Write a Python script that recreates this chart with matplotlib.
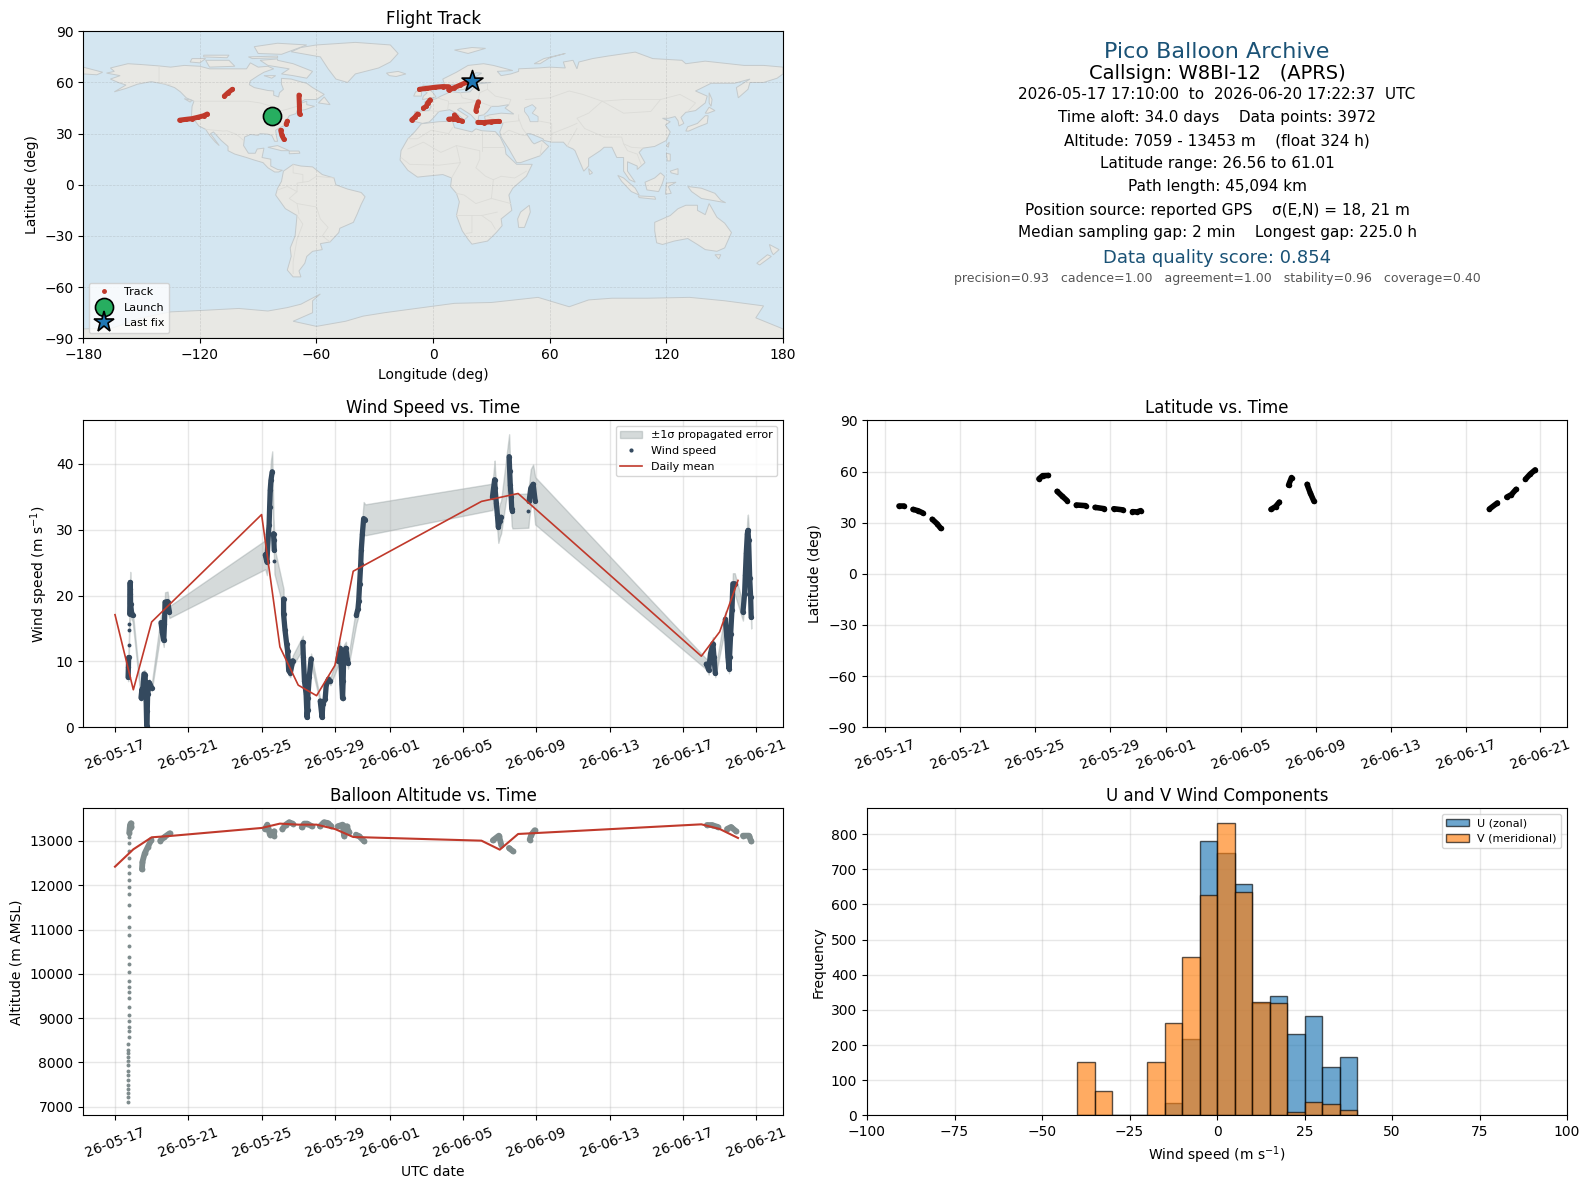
from datetime import datetime
import numpy as np
import matplotlib
matplotlib.use('Agg')
import matplotlib.pyplot as plt
import matplotlib.dates as mdates
from matplotlib.lines import Line2D
from matplotlib.patches import Patch, Polygon

# ---- land outlines (lon, lat), traced by hand
north_america = [(-168,65.5),(-164,66.5),(-166,68.5),(-157,71),(-150,70.5),(-141,69.7),(-135,69),(-128,70),(-120,69.5),(-115,68),(-108,68),(-100,68),(-96,68),(-94,71.5),(-90,69),(-85,69.5),(-82,68),(-87,66),(-90,64),(-94,61),(-94.5,58.7),(-92,57),(-85,55.3),(-82,55),(-82,52.5),(-79.5,51.5),(-79,54),(-77,56),(-78,59),(-78,62.4),(-73,62),(-70,61),(-65,59.5),(-62,57),(-56,53),(-60,50),(-66,50),(-70,47),(-65,49),(-65,47),(-61,46),(-66,44),(-70,43.5),(-70.5,41.7),(-74,40.5),(-75.5,37.5),(-76,35),(-78,34),(-81,32),(-80.5,28),(-80,25.5),(-81.5,25.5),(-83,29),(-85,29.7),(-89,30),(-90,29),(-94,29.5),(-97,28),(-97.5,23),(-95,18.5),(-91.5,18.5),(-90.5,21),(-87,21.5),(-88,16),(-83.5,15),(-83.5,11),(-80,9),(-77.5,8.5),(-79.5,7.5),(-81.5,7.5),(-85,10),(-87.5,13),(-92,14.5),(-96,16),(-102,18),(-105.5,20),(-105.5,22.5),(-109,26),(-113,31),(-114.5,30),(-110,23),(-112,25),(-115,29),(-117,32.5),(-120.5,34.5),(-122.5,37.5),(-124.3,40.5),(-124,46),(-123,49),(-127,51),(-130,54.5),(-133,57),(-138,59),(-145,60.5),(-152,59),(-158,56.5),(-164,54.5),(-158,58.5),(-162,60),(-166,62),(-161,64)]
greenland = [(-73,78),(-68,80.5),(-60,82),(-40,83.5),(-22,82),(-18,77),(-22,72),(-28,68.5),(-40,65),(-44,60),(-50,62),(-54,68),(-58,75)]
baffin = [(-80,73),(-72,71),(-62,66.5),(-65,62.5),(-72,64),(-78,65),(-74,68),(-85,70),(-89,73),(-80,73.8)]
victoria = [(-117,73),(-105,73),(-102,69.5),(-115,69)]
ellesmere = [(-90,77),(-78,76.5),(-65,82),(-80,83),(-92,81)]
banks = [(-125,72),(-124,74),(-117,74),(-120,71.5)]
melville = [(-118,76),(-105,76),(-106,74.5),(-118,75)]
devon = [(-95,75),(-80,75.5),(-80,74.5),(-93,74)]
southampton = [(-87,64),(-81,64),(-83,62.5)]
newfoundland = [(-59,48),(-56,51.5),(-53,47)]
vancouver = [(-128,50.5),(-124,49.5),(-125,48.5)]
cuba = [(-85,22),(-80,23),(-74,20),(-78,20)]
hispaniola = [(-74,19.8),(-69,19.8),(-68.5,18.5),(-74,18.2)]
iceland = [(-24,65.5),(-18,66.5),(-14,65),(-19,63.5),(-22.5,64)]
chukotka = [(-180,69),(-175,67.5),(-170,66),(-173,64.5),(-180,65)]
south_america = [(-77,8),(-72,12),(-68,11),(-62,10.5),(-57,6),(-51,4),(-50,0),(-44,-2.5),(-37,-4.5),(-35,-7),(-37,-11.5),(-39,-17),(-41,-22),(-48,-25.5),(-48.5,-28),(-53,-33.5),(-58,-34.5),(-57,-38),(-62,-39),(-65,-42),(-66,-46),(-69,-50.5),(-68,-54),(-72,-54),(-75,-50),(-73,-42),(-73.5,-37),(-71,-30),(-70,-18),(-76,-14),(-81,-6),(-80,-2),(-78,2)]
africa = [(-6,35.8),(3,37),(10,37.3),(11,33.5),(15,32.4),(20,31),(22,32.8),(25,31.7),(32,31.2),(34.5,28),(37,22),(37.5,18),(43,12),(51,12),(48,5),(41,-2),(39,-6),(40.5,-15),(35,-20),(35.5,-24),(32.5,-28),(28,-33),(20,-34.8),(18,-32),(15,-27),(12,-18),(13.5,-10),(12,-5),(9,-1),(9.5,4),(5,6),(-4,5),(-8,4.5),(-13,8.5),(-17,14.5),(-16.5,20),(-13,27),(-9.5,31)]
madagascar = [(49.5,-12),(50,-16),(47,-25),(44,-25),(43.5,-20),(45,-16)]
eurasia = [(-9,37),(-9.5,43),(-2,43.5),(-1,46),(-4.5,48.5),(1.5,50.5),(4,52),(8,54),(8,57),(10.5,57.5),(10,54.5),(14,54),(19,54.5),(21,57),(24,59.3),(30,60),(23,60),(21.5,63),(25,65.5),(22,65.7),(17,61),(18.5,59.5),(16,56),(13,55.5),(11,59),(6,58),(5,62),(12,66),(18,70),(26,71),(31,70),(41,67),(33,66.5),(35,64),(40,65),(44,66.5),(44,68),(54,68.5),(60,69),(68,68.5),(67,72),(72,73),(74,68),(75,72),(82,74),(90,75.5),(104,77.8),(113,74),(128,73),(130,71),(140,72.5),(152,71),(160,70),(170,70),(180,69),(180,65),(177,62.5),(170,60),(163,60),(162,56),(157,51),(156,57),(163,62),(155,59.5),(143,59.5),(135,55),(141,52),(140,48),(135,43.5),(130,42.5),(127.5,39.5),(129,36),(126.5,34.5),(126,37.5),(124.5,40),(121,39),(118,39),(122,37),(119.5,35),(122,31),(120,26),(114,22.5),(108,21.5),(106,19),(109,13),(105,9),(105,11),(100,13.5),(100,8),(104,1.5),(101,3),(98,8),(98,16),(94.5,16),(92,22),(88,22),(86,20),(80,15.5),(80,11),(77.5,8),(73,20),(72,21),(69,22.5),(67,25),(61,25),(57,26),(56.5,27),(50,30),(48,30),(51,25),(52,24),(56,26),(59.5,22.5),(55,17),(45,13),(43,13),(39,21),(35,28),(34.3,31),(36,36),(30,36),(27,37),(26.5,40),(29,41),(35,42),(41.5,41.5),(37,45),(39,47),(33.5,46),(30,46),(28,43),(26,41),(23.5,40.5),(23,36.5),(19.5,41),(14,45),(12.5,44),(18,40),(16,38),(12,42),(8.5,44),(3,43),(0,39),(-2,36.8),(-5.5,36)]
britain = [(-5.5,50),(1.5,51.5),(0,54),(-2,56),(-2,57.5),(-5,58.5),(-6,56),(-3,54),(-5,52)]
ireland = [(-10,52),(-6,52),(-6,55),(-9,54.5)]
svalbard = [(11,79),(20,80.5),(27,80),(18,77)]
novaya_zemlya = [(52,71),(57,74),(68,77),(60,74.5),(55,71)]
sakhalin = [(142,54),(143.5,50),(143,46),(142,48)]
honshu = [(130,31.5),(131,34),(136,36),(140,40.5),(141.5,40.5),(141,36),(136.5,34),(131.5,31.5)]
hokkaido = [(140,42),(142,45.5),(145,43.5),(141.5,42)]
taiwan = [(120,23),(121.5,25),(121,22)]
luzon = [(120,18.5),(122,18),(122,14),(120.5,14)]
mindanao = [(122,8),(126,9.5),(126,6),(122.5,7)]
borneo = [(109,1.5),(114,4),(117,7),(119,5),(118,1),(116,-4),(110,-3)]
sumatra = [(95,5.5),(98,4),(104,-2),(106,-6),(102,-4),(97,2)]
java = [(105.5,-6.5),(114,-7),(114.5,-8.5),(106,-7.5)]
sulawesi = [(119.5,-5.5),(120,1),(125,1.5),(121,-1),(122.5,-5)]
new_guinea = [(131,-1),(138,-2),(145,-5),(148,-9),(150.5,-10.5),(143,-9),(138,-8),(133,-4)]
sri_lanka = [(80,9.5),(82,7),(80.5,6)]
australia = [(114,-22),(122,-18),(126,-14),(130,-12),(136,-12),(136,-15),(140,-17.5),(142,-11),(146,-19),(150,-22.5),(153.5,-28),(150,-37),(146,-39),(140,-38),(136,-35),(131,-31.5),(124,-33),(118,-35),(115,-34),(114,-27)]
tasmania = [(145,-41),(148,-41),(147,-43.5)]
nz_north = [(173,-35),(178,-38),(175,-41),(174,-39)]
nz_south = [(172,-41),(174,-42),(168,-47),(166.5,-46)]
antarctica = [(-180,-90),(-180,-84.5),(-165,-84),(-150,-78),(-135,-74.5),(-118,-73.6),(-100,-72.5),(-85,-74),(-75,-72),(-68,-70),(-58,-64),(-62,-68),(-62,-75),(-72,-80),(-60,-83),(-45,-80),(-36,-77),(-25,-75),(-12,-73),(11,-69.5),(30,-69),(54,-66),(70,-71.5),(80,-67.5),(92,-66.5),(110,-66.5),(132,-66),(150,-68),(170,-71),(166,-78),(180,-84.5),(180,-90)]
land = [north_america, greenland, baffin, victoria, ellesmere, banks, melville, devon, southampton, newfoundland, vancouver, cuba, hispaniola, iceland, chukotka, south_america, africa, madagascar, eurasia, britain, ireland, svalbard, novaya_zemlya, sakhalin, honshu, hokkaido, taiwan, luzon, mindanao, borneo, sumatra, java, sulawesi, new_guinea, sri_lanka, australia, tasmania, nz_north, nz_south, antarctica]
caspian = [(47,45),(51,47),(53,45),(51,42),(54,40),(54,37),(50,37),(49,40),(47,43)]

borders = [
    [(-123,49),(-95,49),(-89,48),(-83,46),(-82,42.5),(-76,44),(-70,46),(-67,45)],
    [(-141,69.7),(-141,60),(-135,58.5)],
    [(-117,32.5),(-108,31.5),(-106,31.7),(-101,29.5),(-97.5,26)],
    [(-51,4),(-60,5),(-64,2),(-70,1),(-70,-4),(-74,-8),(-70,-11),(-60,-13),(-58,-20),(-54,-25),(-57,-30),(-53,-33.5)],
    [(-70,-18),(-67,-23),(-70,-32),(-72,-45),(-72,-52)],
    [(-72,12),(-72,7),(-67,6),(-67,1.5)],
    [(-80,-3),(-75,-1),(-70,-4)],
    [(-70,-11),(-69,-17)],
    [(-13,27),(-8,27),(-1,32),(8,30),(10,33.5)],
    [(25,31.7),(25,20)],
    [(25,22),(36,22)],
    [(12,23),(24,20),(24,15),(22,10),(27,5),(31,3),(35,5),(42,4),(48,8)],
    [(-13,21),(-5,25),(4,19),(12,23),(14,13),(3,11.5),(-12,12),(-16.5,16)],
    [(9.5,4),(14,13)],
    [(12,-5),(16,-6),(22,-11),(30,-8),(31,3)],
    [(30,-8),(40,-11)],
    [(12,-18),(25,-18),(33,-16)],
    [(20,-18),(20,-28),(17,-28.5)],
    [(25,-18),(30,-22),(32,-26)],
    [(28,59),(28,56),(32,52),(40,50),(39,47)],
    [(47.5,50),(60,51),(70,55),(77,53),(87,49),(98,50),(110,50),(117,50),(127,53),(135,48),(131,43)],
    [(87,49),(80,42),(74,39),(78,33),(88,28),(97,28),(98,24),(102,22),(108,21.5)],
    [(87,49),(98,42),(112,43),(117,50)],
    [(44,39),(46,33),(48,30)],
    [(61,25),(61,36),(54,37.5)],
    [(61,30),(70,34),(74,36)],
    [(74,33),(70,25),(69,22.5)],
    [(35,29),(39,32),(46,29),(48,29)],
    [(55,17),(56,24)],
    [(26,41),(36,36.5),(44,37.5),(44,41)],
    [(-2,43.5),(3,43)],
    [(2,51),(8,49),(7.5,44)],
    [(14,54),(15,51),(23,49),(24,54)],
    [(8,47.5),(17,48),(23,49)],
    [(24,54),(28,56)],
    [(23,49),(30,46)],
    [(98,24),(100,20),(105,18),(107,12)],
]

# ---- flight track
track_lon = [
    [-84,-82], [-75.6,-75], [-78.4,-77.8,-76.7],
    [-7,-3,1,5,8], [8,11,14,17,20],
    [22,22.5,23.3],
    [8,10,13,15], [11,12,13], [23,26,30,34],
    [-130.4,-127,-124,-121,-118,-116.2],
    [-107.4,-105.5,-103.2], [-69,-68.8,-68.7],
    [-11,-9.5,-8], [-5,-3.5,-2.8,-1.5],
]
track_lat = [
    [40.2,40], [35.6,37.3], [32,29,26.6],
    [56,56.6,57.2,57.6,57.5], [55.6,57,58.5,60,61],
    [43.4,46,48.7],
    [38.5,38.7,38,37.3], [41,39.5,38], [36.6,36.5,37,37.2],
    [37.9,38.4,38.8,39.6,40.5,41.5],
    [52,54,56], [52.6,47,41.5],
    [38,39.5,41.5], [45,46,48,49.8],
]
launch_lon, launch_lat = -83.1, 40.3
last_lon, last_lat = 20.0, 60.9

# ---- latitude vs time, days since 05-17 00:00 UTC
lat_days = [
    [0.715,1.0], [1.47,1.75,2.0], [2.5,2.75,2.96],
    [8.2,8.4,8.7], [9.17,9.45,9.7], [10.2,10.7], [11.2,11.7], [12.2,12.7], [13.2,13.45,13.64],
    [20.6,20.85,21.05], [21.54,21.7], [22.53,22.7,22.9],
    [32.27,32.7], [33.2,33.45,33.7], [34.2,34.45,34.72],
]
lat_deg = [
    [40,40], [37.8,37,35.7], [32,29.5,26.6],
    [55.7,57.6,57.7], [48.4,45.5,43], [40.4,40], [39,38.2], [38.2,37.5], [36.5,36.3,37.1],
    [37.8,39.5,42.1], [52,56.5], [52.5,47.5,42.5],
    [38,41.6], [45,46.5,49.6], [55.5,58.5,61],
]

# ---- wind speed runs: day, speed, 1-sigma
wind_days = [
    [0.715,0.73,0.745], [0.76], [0.77], [0.78], [0.80,0.82,0.83,0.84,0.85,0.90,0.96],
    [1.42,1.47,1.51,1.58,1.64,1.70,1.73,1.76,1.78,1.87,2.0],
    [2.51,2.58,2.66,2.70,2.73,2.87,2.97],
    [8.2,8.29,8.37,8.41,8.44,8.47,8.51,8.58], [8.65,8.67,8.69], [8.70],
    [9.2,9.2,9.28,9.37,9.42,9.48,9.57,9.7],
    [10.25,10.28,10.34,10.43,10.48,10.52,10.52,10.6,10.7],
    [11.2,11.3,11.34,11.47,11.53,11.65,11.76],
    [12.16,12.27,12.34,12.38,12.42,12.45,12.49,12.6,12.67,12.72],
    [13.17,13.26,13.3,13.35,13.41,13.44,13.5,13.57,13.66],
    [20.6,20.72,20.74,20.81,20.87,20.92,21.0,21.07],
    [21.51,21.54,21.57,21.62,21.65,21.69],
    [22.56], [22.6,22.69,22.82,22.93],
    [32.27,32.32,32.4,32.5,32.63,32.69,32.76],
    [33.31,33.4,33.45,33.51,33.54,33.6,33.67,33.72,33.82],
    [34.27,34.36,34.4,34.45,34.51,34.54,34.58,34.64,34.69,34.72],
]
wind_speed = [
    [7.6,9.1,10.6], [12.5], [14.7], [15.7], [17.2,20.25,22.0,21.0,18.7,17.5,17.0],
    [4.5,5.8,5.3,8.1,8.0,4.0,0.2,2.5,5.0,6.8,6.0],
    [15.9,14.4,13.2,15.7,19.0,19.1,17.5],
    [26.2,25.1,29.4,30.7,33.5,36.0,37.5,38.8], [29.4,28.4,26.9], [25.3],
    [19.5,17.2,14.7,12.6,11.6,8.6,8.3,10.1],
    [12.9,10.6,7.05,5.0,1.5,2.7,4.5,7.6,10.4],
    [4.0,1.5,3.5,4.3,6.5,7.3,7.0],
    [10.1,12.0,9.6,6.5,4.4,7.05,11.6,12.0,10.4,9.7],
    [17.0,18.0,19.2,21.8,24.8,26.9,29.4,31.7,31.5],
    [35.0,37.6,36.3,34.0,32.2,30.4,31.4,31.9],
    [41.1,38.9,36.8,35.0,33.2,32.8],
    [32.9], [34.3,36.3,36.9,34.4],
    [9.6,9.4,8.7,11.2,12.7,10.7,8.2],
    [16.4,13.2,10.7,8.9,10.7,14.2,17.8,21.8,21.8],
    [17.5,20.3,23.1,26.4,29.4,29.9,28.4,22.6,19.8,16.7],
]
wind_sigma = [
    [0.6,0.7,0.8], [1.0], [1.1], [1.2], [1.3,1.5,1.6,1.6,1.3,1.1,0.9],
    [0.4,0.5,0.5,0.6,0.6,0.3,0.1,0.2,0.4,0.5,0.5],
    [1.2,1.1,1.0,1.2,1.5,1.5,0.9],
    [2.2,2.0,2.4,2.5,2.7,2.9,3.0,3.1], [2.4,2.3,2.1], [2.0],
    [1.5,1.4,1.2,1.0,0.9,0.7,0.7,0.8],
    [1.0,0.8,0.6,0.4,0.1,0.2,0.4,0.6,0.8],
    [0.3,0.1,0.3,0.3,0.5,0.6,0.6],
    [0.8,1.0,0.8,0.5,0.4,0.6,0.9,1.0,0.8,0.8],
    [1.3,1.4,1.5,1.7,2.0,2.1,2.3,2.5,2.35],
    [2.0,2.9,2.8,2.7,2.5,2.4,2.5,2.5],
    [3.4,3.2,3.0,2.8,2.6,2.6],
    [2.6], [2.7,2.9,3.0,3.6],
    [0.8,0.7,0.7,0.9,1.0,0.8,0.6],
    [1.2,1.0,0.8,0.7,0.8,1.1,1.4,1.6,1.6],
    [1.3,1.6,1.8,2.0,2.3,2.4,2.2,1.8,1.6,1.7],
]
wind_mean_days = [0,1,2,8,9,10,11,12,13,20,21,22,32,33,34]
wind_mean = [17.1,5.7,16.0,32.3,12.2,6.4,4.8,9.4,23.7,34.3,34.9,35.5,10.8,14.5,22.3]

# ---- altitude
ascent_days = [0.71,0.71,0.71,0.71,0.71,0.71,0.71,0.71,0.71,0.71,0.71,0.73,0.73,0.73,0.76,0.76,0.76,0.76,0.76,0.76,0.76,0.76,0.76,0.76,0.76,0.76,0.76,0.76,0.76,0.76,0.76,0.76,0.76,0.76,0.76,0.76,0.76,0.76,0.76,0.76,0.76]
ascent_alt = [7112,7224,7315,7405,7496,7601,7706,7812,7932,8038,8128,8218,8279,8414,8565,8716,8806,8941,9077,9258,9446,9596,9709,9845,10033,10214,10372,10628,10869,11050,11276,11547,11795,11953,12111,12270,12435,12608,12782,12947,13083]
alt_days = [
    [0.78,0.80,0.82,0.86,0.90], [1.47,1.50,1.62,1.80,1.98], [2.47,2.70,2.98],
    [8.18,8.31,8.36,8.45,8.68,8.68], [9.13,9.32,9.5,9.7], [10.19,10.32,10.5,10.74], [11.18,11.4,11.6,11.78],
    [12.15,12.42,12.51,12.64,12.78], [13.15,13.33,13.6],
    [20.62,20.95,21.08], [21.5,21.72], [22.63,22.72,22.9],
    [32.3,32.58,32.9], [33.4,33.62,33.9], [34.27,34.6,34.72],
]
alt_m = [
    [13188,13286,13361,13399,13324], [12360,12533,12721,12872,13023], [13008,13090,13173],
    [13271,13369,13294,13143,13218,13120], [13271,13369,13422,13392], [13309,13392,13392,13331], [13331,13422,13407,13346],
    [13331,13369,13105,13331,13196], [13143,13105,12992],
    [13015,13120,12917], [12842,12767], [13030,13143,13241],
    [13360,13360,13316], [13271,13316,13218], [13120,13120,12992],
]
alt_mean_days = [0,1,2,3,8,9,10,11,12,13,20,21,22,32,33,34]
alt_mean = [12420,12812,13083,13113,13294,13392,13369,13369,13271,13090,13007,12804,13158,13376,13271,13068]

# ---- histogram
hist_edges = [-40,-35,-30,-25,-20,-15,-10,-5,0,5,10,15,20,25,30,35,40]
u_counts = [0,0,0,0,0,35,217,780,745,658,320,340,232,282,138,165]
v_counts = [152,68,0,0,152,262,450,628,832,635,322,320,10,38,32,15]

# ---- summary text
summary_lines = [
    ('Pico Balloon Archive', 16, '#1a5276'),
    ('Callsign: W8BI-12   (APRS)', 14, 'black'),
    ('2026-05-17 17:10:00  to  2026-06-20 17:22:37  UTC', 11, 'black'),
    ('Time aloft: 34.0 days    Data points: 3972', 11, 'black'),
    ('Altitude: 7059 - 13453 m    (float 324 h)', 11, 'black'),
    ('Latitude range: 26.56 to 61.01', 11, 'black'),
    ('Path length: 45,094 km', 11, 'black'),
    ('Position source: reported GPS    σ(E,N) = 18, 21 m', 11, 'black'),
    ('Median sampling gap: 2 min    Longest gap: 225.0 h', 11, 'black'),
    ('Data quality score: 0.854', 13, '#1a5276'),
    ('precision=0.93   cadence=1.00   agreement=1.00   stability=0.96   coverage=0.40', 9, '#555555'),
]
summary_y = [0.934,0.861,0.794,0.718,0.642,0.569,0.493,0.417,0.344,0.262,0.196]

RED = '#c0392b'
NAVY = '#34495e'
GREY = '#7f8c8d'
t0 = mdates.date2num(datetime(2026, 5, 17))


def runs(ax, xs, ys, color, width, dot, to_dates=True):
    # a dense run reads as a fat line, lone samples stay as dots
    for x, y in zip(xs, ys):
        x = np.array(x) + (t0 if to_dates else 0)
        ms = dot if len(x) == 1 else width
        ax.plot(x, y, color=color, lw=width, marker='o', ms=ms, mew=0,
                solid_capstyle='round', solid_joinstyle='round')


def date_axis(ax):
    ax.xaxis.set_major_locator(mdates.AutoDateLocator())
    ax.xaxis.set_major_formatter(mdates.DateFormatter('%y-%m-%d'))
    ax.tick_params(axis='x', rotation=20)
    ax.grid(True, alpha=0.3, lw=1.0)


W, H = 1590, 1189
fig = plt.figure(figsize=(W / 100, H / 100), dpi=100)


def panel(left, top, right, bottom):
    return fig.add_axes([left / W, 1 - bottom / H, (right - left) / W, (bottom - top) / H])


col_l = (83.2, 783)
col_r = (867, 1567)
row1 = (31.3, 338.3)
row2 = (420.4, 727.3)
row3 = (808.3, 1115.3)

# map
ax = panel(col_l[0], row1[0], col_l[1], row1[1])
ax.set_facecolor('#d4e6f1')
for shape in land:
    ax.add_patch(Polygon(shape, closed=True, fc='#e8e8e4', ec='#c4cacc', lw=0.7, zorder=1))
ax.add_patch(Polygon(caspian, closed=True, fc='#d4e6f1', ec='#c4cacc', lw=0.6, zorder=1.1))
for line in borders:
    xy = np.array(line)
    ax.plot(xy[:, 0], xy[:, 1], color='#dcdcd8', lw=0.6, zorder=1.2)
runs(ax, track_lon, track_lat, RED, 3.6, 2.4, to_dates=False)
ax.scatter([launch_lon], [launch_lat], s=170, c='#27ae60', edgecolors='black', linewidths=1.2, zorder=5)
ax.scatter([last_lon], [last_lat], s=250, c='#1f77b4', marker='*', edgecolors='black', linewidths=1.2, zorder=6)
ax.set_xlim(-180, 180)
ax.set_ylim(-90, 90)
ax.set_xticks(np.arange(-180, 181, 60))
ax.set_yticks(np.arange(-90, 91, 30))
ax.grid(True, ls='--', lw=0.5, color='gray', alpha=0.25, zorder=2)
ax.set_title('Flight Track', fontsize=12, pad=5)
ax.set_xlabel('Longitude (deg)')
ax.set_ylabel('Latitude (deg)')
ax.legend(handles=[
    Line2D([], [], ls='none', marker='o', ms=2.5, color=RED, label='Track'),
    Line2D([], [], ls='none', marker='o', ms=13, mfc='#27ae60', mec='black', mew=1.2, label='Launch'),
    Line2D([], [], ls='none', marker='*', ms=15.8, mfc='#1f77b4', mec='black', mew=1.2, label='Last fix'),
], loc='lower left', fontsize=8)

# summary block
ax = panel(col_r[0], row1[0], col_r[1], row1[1])
ax.axis('off')
for (txt, size, color), y in zip(summary_lines, summary_y):
    ax.text(0.5, y, txt, fontsize=size, color=color, ha='center', va='center', transform=ax.transAxes)

# wind speed
ax = panel(col_l[0], row2[0], col_l[1], row2[1])
all_days = t0 + np.array([d for r in wind_days for d in r])
all_speed = np.array([v for r in wind_speed for v in r])
all_sigma = np.array([s for r in wind_sigma for s in r])
ax.fill_between(all_days, all_speed - all_sigma, all_speed + all_sigma, color=GREY, alpha=0.32)
runs(ax, wind_days, wind_speed, NAVY, 3.8, 2.8)
ax.plot(t0 + np.array(wind_mean_days), wind_mean, color=RED, lw=1.2)
ax.set_ylim(0, 46.6)
date_axis(ax)
ax.set_title('Wind Speed vs. Time', fontsize=12, pad=5)
ax.set_ylabel('Wind speed (m s$^{-1}$)')
ax.legend(handles=[
    Patch(color=GREY, alpha=0.32, label='±1σ propagated error'),
    Line2D([], [], ls='none', marker='o', ms=2, color=NAVY, label='Wind speed'),
    Line2D([], [], color=RED, lw=1.2, label='Daily mean'),
], loc='upper right', fontsize=8)

# latitude
ax = panel(col_r[0], row2[0], col_r[1], row2[1])
runs(ax, lat_days, lat_deg, 'black', 4.0, 3.0)
ax.set_ylim(-90, 90)
ax.set_yticks(np.arange(-90, 91, 30))
date_axis(ax)
ax.set_title('Latitude vs. Time', fontsize=12, pad=5)
ax.set_ylabel('Latitude (deg)')

# altitude
ax = panel(col_l[0], row3[0], col_l[1], row3[1])
ax.scatter(t0 + np.array(ascent_days), ascent_alt, s=8, color=GREY, linewidths=0)
runs(ax, alt_days, alt_m, GREY, 4.2, 2.8)
ax.plot(t0 + np.array(alt_mean_days), alt_mean, color=RED, lw=1.5)
ax.set_ylim(6805, 13738)
date_axis(ax)
ax.set_title('Balloon Altitude vs. Time', fontsize=12, pad=5)
ax.set_xlabel('UTC date')
ax.set_ylabel('Altitude (m AMSL)')

# histogram
ax = panel(col_r[0], row3[0], col_r[1], row3[1])
ax.hist(hist_edges[:-1], bins=hist_edges, weights=u_counts, color='#1f77b4', alpha=0.65, ec='black', label='U (zonal)')
ax.hist(hist_edges[:-1], bins=hist_edges, weights=v_counts, color='#ff7f0e', alpha=0.65, ec='black', label='V (meridional)')
ax.set_xlim(-100, 100)
ax.set_axisbelow(True)
ax.grid(True, alpha=0.3, lw=1.0)
ax.set_title('U and V Wind Components', fontsize=12, pad=5)
ax.set_xlabel('Wind speed (m s$^{-1}$)')
ax.set_ylabel('Frequency')
ax.legend(loc='upper right', fontsize=8)

fig.savefig('out.png', dpi=100)
